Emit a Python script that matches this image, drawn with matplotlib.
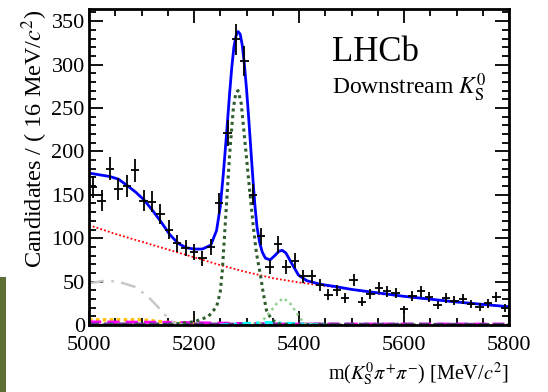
import numpy as np
import matplotlib
matplotlib.use("Agg")
import matplotlib.pyplot as plt
from matplotlib.patches import Rectangle
from matplotlib.ticker import MultipleLocator

plt.rcParams['font.family'] = ['Liberation Serif', 'DejaVu Serif']
plt.rcParams['mathtext.fontset'] = 'stix'

# Data: 16 MeV bins, centres 5008 ... 5792
bin_centers = [5008 + 16 * i for i in range(50)]
counts = [159, 143, 180, 157, 160, 178, 143, 142, 128, 110,
          94, 89, 84, 77, 90, 140, 221, 329, 304, 150,
          102, 67, 93, 67, 74, 56, 56, 46, 35, 40,
          31, 52, 27, 36, 43, 39, 37, 18, 33, 39,
          32, 23, 31, 28, 30, 24, 21, 25, 32, 20]

# Total fit
total_m = [5000, 5040, 5056, 5072, 5089, 5105, 5121, 5137, 5154, 5170, 5185, 5200,
           5216, 5232, 5243, 5250, 5256, 5262, 5268, 5272, 5276, 5280, 5284, 5288,
           5292, 5296, 5300, 5304, 5308, 5312, 5316, 5320, 5325, 5330, 5336, 5345,
           5354, 5362, 5368, 5375, 5386, 5399, 5415, 5440, 5472, 5500, 5600, 5700, 5800]
total_v = [175, 171, 168, 161, 153, 144, 132, 119, 104, 94, 89, 87.5,
           87.5, 92, 109, 136, 175, 220, 268, 297, 320, 333, 338, 335,
           322, 300, 272, 240, 205, 170, 138, 113, 95, 84, 77, 75,
           80, 85, 86, 83, 71, 57.5, 51, 47, 44, 41, 33, 26.5, 21]

# Combinatorial background (red dotted)
comb_m = [5000, 5050, 5100, 5150, 5200, 5250, 5300, 5350, 5400, 5450, 5500,
          5550, 5600, 5650, 5700, 5750, 5800]
comb_v = [115, 105, 96, 87, 78, 69, 61, 54, 49, 45, 41,
          36, 33, 29.6, 26.5, 23.5, 21]

# B0 signal (dark green dotted)
b0_m = [5000, 5150, 5177, 5202, 5227, 5243, 5250, 5254, 5260, 5268, 5275, 5280,
        5284, 5290, 5298, 5306, 5313, 5319, 5326, 5332, 5338, 5348, 5364, 5400, 5800]
b0_v = [0, 0.5, 2, 4, 9.6, 21, 38, 63, 121, 198, 250, 268,
        270, 255, 205, 155, 113, 82.5, 59.5, 36.5, 17, 6, 1, 0, 0]

# Bs signal (light green dotted)
bs_m = [5300, 5326, 5345, 5358, 5370, 5383, 5392, 5402, 5411, 5440]
bs_v = [0, 2, 15, 25, 31, 25, 17, 8, 1, 0]

# Partially reconstructed background (grey dash-dot)
prc_m = [5000, 5030, 5055, 5087, 5112, 5131, 5145, 5157, 5170, 5185]
prc_v = [48, 51, 50, 44, 33, 21, 11.5, 4, 1, 0]

# Small peaking backgrounds near zero
orange_m = [5000, 5100, 5150, 5200, 5250]
orange_v = [6, 6, 3, 1, 0]
magenta_m = [5000, 5150, 5260, 5350, 5800]
magenta_v = [3.5, 3, 2, 1, 1]
purple_m = [5000, 5800]
purple_v = [1.5, 1]
cyan_m = [5250, 5300, 5340, 5400, 5450]
cyan_v = [0, 2, 3, 1.5, 0]

fig = plt.figure(figsize=(5.48, 3.92), dpi=100)
ax = fig.add_axes([89 / 548, 1 - 325 / 392, 420 / 548, 316 / 392])

fig.patches.append(Rectangle((0, 0), 6 / 548, 115 / 392, transform=fig.transFigure,
                             facecolor='#5d6f34', edgecolor='none', zorder=0))

ax.plot(orange_m, orange_v, color='#ffc000', ls=(0, (1, 1)), lw=2.5)
ax.plot(magenta_m, magenta_v, color='magenta', ls=(0, (4, 2)), lw=2.2)
ax.plot(purple_m, purple_v, color='#7030a0', ls=(0, (4, 2)), lw=1.8)
ax.plot(cyan_m, cyan_v, color='cyan', ls=(0, (3, 2, 1, 2)), lw=2)
ax.plot(prc_m, prc_v, color='#c8c8c8', ls=(0, (6, 3, 1, 3)), lw=1.8)
ax.plot(comb_m, comb_v, color='red', ls=(0, (1, 1.2)), lw=1.3)
ax.plot(b0_m, b0_v, color='#2e5e2e', ls=(0, (1, 1.2)), lw=2.2)
ax.plot(bs_m, bs_v, color='#8fcf8f', ls=(0, (1, 1.5)), lw=1.8)
ax.plot(total_m, total_v, color='blue', lw=2.0, solid_joinstyle='round')

yerr = np.sqrt(np.array(counts, dtype=float))
ax.errorbar(bin_centers, counts, xerr=8, yerr=yerr, fmt='none', ecolor='black',
            elinewidth=1.3, capsize=0, zorder=5)

ax.set_xlim(5000, 5800)
ax.set_ylim(0, 364)
ax.xaxis.set_major_locator(MultipleLocator(200))
ax.xaxis.set_minor_locator(MultipleLocator(50))
ax.yaxis.set_major_locator(MultipleLocator(50))
ax.yaxis.set_minor_locator(MultipleLocator(10))
ax.tick_params(which='both', direction='in', top=True, right=True, labelsize=16, width=1.3)
ax.tick_params(which='major', length=10)
ax.tick_params(which='minor', length=5)
ax.tick_params(axis='x', pad=8)
ax.tick_params(axis='y', pad=3)
for s in ax.spines.values():
    s.set_linewidth(2)

ax.set_ylabel(r'Candidates / ( 16 MeV/$c^2$)', fontsize=17.5, y=1.0, ha='right', labelpad=1)
ax.set_xlabel(r'm($K^0_{\rm S}\pi^{+}\pi^{-}$) [MeV/$c^2$]', fontsize=14.5, x=1.0, ha='right', labelpad=4)

ax.text(0.578, 0.915, 'LHCb', transform=ax.transAxes, fontsize=25, va='top', ha='left')
ax.text(0.578, 0.80, r'Downstream $K^0_{\rm S}$', transform=ax.transAxes, fontsize=17,
        va='top', ha='left')

fig.savefig('out.png', dpi=100)
